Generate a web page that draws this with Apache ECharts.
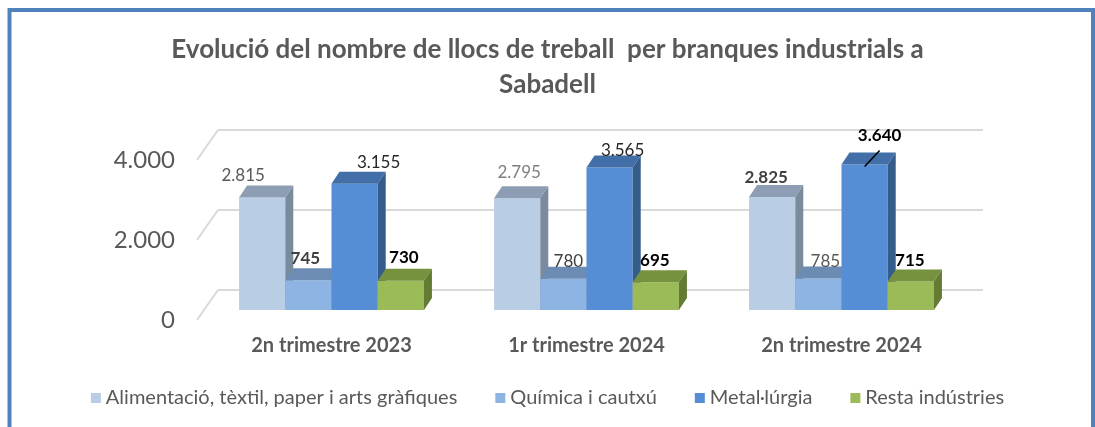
<html>
  <head>
    <meta charset="utf-8">
    <script src="https://cdn.jsdelivr.net/npm/echarts@6/dist/echarts.min.js"></script>
    <style>
      body { margin: 0; background-color: #fff; }
      #chart { width: 1095px; height: 427px; }
    </style>
  </head>
  <body>
    <div id="chart"></div>
  </body>
  <script>
    // data
    var categories = ['2n trimestre 2023', '1r trimestre 2024', '2n trimestre 2024'];
    var seriesNames = ['Alimentació, tèxtil, paper i arts gràfiques', 'Química i cautxú', 'Metal·lúrgia', 'Resta indústries'];
    var alimentacio = [2815, 2795, 2825];
    var quimica = [745, 780, 785];
    var metallurgia = [3155, 3565, 3640];
    var resta = [730, 695, 715];
    var yTicks = [0, 2000, 4000];

    // look of the 3D boxes: front, top and side faces
    var faces = [
        { front: '#B9CDE5', top: '#8D9EB4', side: '#7A8B9E' },
        { front: '#8DB4E2', top: '#6C8CB4', side: '#5F7DA3' },
        { front: '#558ED5', top: '#426FA8', side: '#365C8C' },
        { front: '#9BBB59', top: '#77923E', side: '#637B32' }
    ];
    // per label look (bold, colour) and nudge from the top of the box
    var labelBold = [[false, false, true], [true, false, false], [false, false, true], [true, true, true]];
    var labelColor = [['#595959', '#7F7F7F', '#404040'], ['#404040', '#404040', '#595959'],
                      ['#262626', '#262626', '#000'], ['#000', '#000', '#000']];
    var labelShift = [[[-23, -10], [-2, -14], [-10, -7]], [[-7, -10], [1, -5], [3, -5]],
                      [[20, -9], [9, -5], [11, -17]], [[-1, -11], [-5, -10], [-5, -9]]];
    var leader = [[false, false, false], [false, false, false], [false, false, true], [false, false, false]];

    var depth = [8, -12];  // box depth offset
    var font = 'Lato, "Open Sans", sans-serif';

    function fmt(v) {
        return String(v).replace(/\B(?=(\d{3})+(?!\d))/g, '.');
    }

    function boxRenderer(k) {
        return function (params, api) {
            var i = api.value(0);
            var v = api.value(1);
            var base = api.coord([i, 0]);
            var tp = api.coord([i, v]);
            var band = api.size([1, 0])[0];
            var groupW = band * 0.725;
            var w = groupW / 4;
            var x = base[0] - groupW / 2 + k * w;
            var yT = tp[1], yB = base[1];
            var dx = depth[0], dy = depth[1];
            var f = faces[k];
            var lx = x + w / 2 + dx / 2 + labelShift[k][i][0];
            var ly = yT + dy + labelShift[k][i][1];
            var children = [
                { type: 'rect', shape: { x: x, y: yT, width: w, height: yB - yT }, style: { fill: f.front } },
                { type: 'polygon', shape: { points: [[x, yT], [x + dx, yT + dy], [x + w + dx, yT + dy], [x + w, yT]] }, style: { fill: f.top } },
                { type: 'polygon', shape: { points: [[x + w, yT], [x + w + dx, yT + dy], [x + w + dx, yB + dy], [x + w, yB]] }, style: { fill: f.side } },
                { type: 'text', z2: 10, style: {
                    text: fmt(v), x: lx, y: ly, align: 'center', verticalAlign: 'middle',
                    fill: labelColor[k][i],
                    font: (labelBold[k][i] ? 'bold ' : '') + '17px ' + font
                } }
            ];
            if (leader[k][i]) {
                children.push({ type: 'line', shape: { x1: lx - 15, y1: ly + 31, x2: lx, y2: ly + 15 },
                                style: { stroke: '#000', lineWidth: 1.5 } });
            }
            return { type: 'group', children: children };
        };
    }

    var values = [alimentacio, quimica, metallurgia, resta];
    var series = [];
    // slanted lines from the front edge to the back wall
    series.push({
        type: 'custom', xAxisIndex: 0, yAxisIndex: 0, silent: true,
        data: yTicks.map(function (t) { return [0, t]; }),
        renderItem: function (params, api) {
            var p = api.coord([0, api.value(1)]);
            var x0 = params.coordSys.x;
            return { type: 'line', shape: { x1: x0, y1: p[1], x2: x0 + 21, y2: p[1] - 30 },
                     style: { stroke: '#D9D9D9', lineWidth: 2 } };
        }
    });
    for (let k = 0; k < 4; k++) {
        series.push({
            name: seriesNames[k], type: 'custom', xAxisIndex: 1, yAxisIndex: 1,
            itemStyle: { color: faces[k].front },
            encode: { x: 0, y: 1 },
            data: values[k].map(function (v, i) { return [i, v]; }),
            renderItem: boxRenderer(k)
        });
    }

    var chart = echarts.init(document.getElementById('chart'));
    var option = {
        animation: false,
        title: {
            text: 'Evolució del nombre de llocs de treball  per branques industrials a\nSabadell',
            left: 'center', top: 27,
            textStyle: { fontFamily: font, fontWeight: 'bold', fontSize: 26, color: '#595959', lineHeight: 35 }
        },
        legend: {
            data: seriesNames, top: 383, left: 'center', icon: 'rect',
            itemWidth: 10, itemHeight: 10, itemGap: 38,
            textStyle: { fontFamily: font, fontSize: 20, color: '#595959' }
        },
        graphic: [{
            type: 'rect', silent: true,
            shape: { x: 9.5, y: 10, width: 1083.5, height: 500 },
            style: { fill: 'none', stroke: '#4F81BD', lineWidth: 4 }
        }],
        grid: [
            { left: 197, top: 160, width: 765, height: 160 },   // front plane (axis labels)
            { left: 204, top: 150, width: 765, height: 160 },   // plane of the boxes
            { left: 218, top: 130, width: 765, height: 160 }    // back wall (grid lines)
        ],
        xAxis: [
            { gridIndex: 0, type: 'category', data: categories, show: false },
            { gridIndex: 1, type: 'category', data: categories,
              axisLine: { show: false }, axisTick: { show: false },
              axisLabel: { margin: 26, fontFamily: font, fontWeight: 'bold', fontSize: 20, color: '#595959' } },
            { gridIndex: 2, type: 'category', data: categories, show: false }
        ],
        yAxis: [
            { gridIndex: 0, type: 'value', min: 0, max: 4000, interval: 2000,
              axisLine: { show: false }, axisTick: { show: false }, splitLine: { show: false },
              axisLabel: { margin: 22, fontFamily: font, fontSize: 24, color: '#595959', formatter: fmt } },
            { gridIndex: 1, type: 'value', min: 0, max: 4000, interval: 2000, show: false },
            { gridIndex: 2, type: 'value', min: 0, max: 4000, interval: 2000,
              axisLine: { show: false }, axisTick: { show: false }, axisLabel: { show: false },
              splitLine: { lineStyle: { color: '#D9D9D9', width: 2 } } }
        ],
        series: series
    };
    chart.setOption(option);
  </script>
</html>
